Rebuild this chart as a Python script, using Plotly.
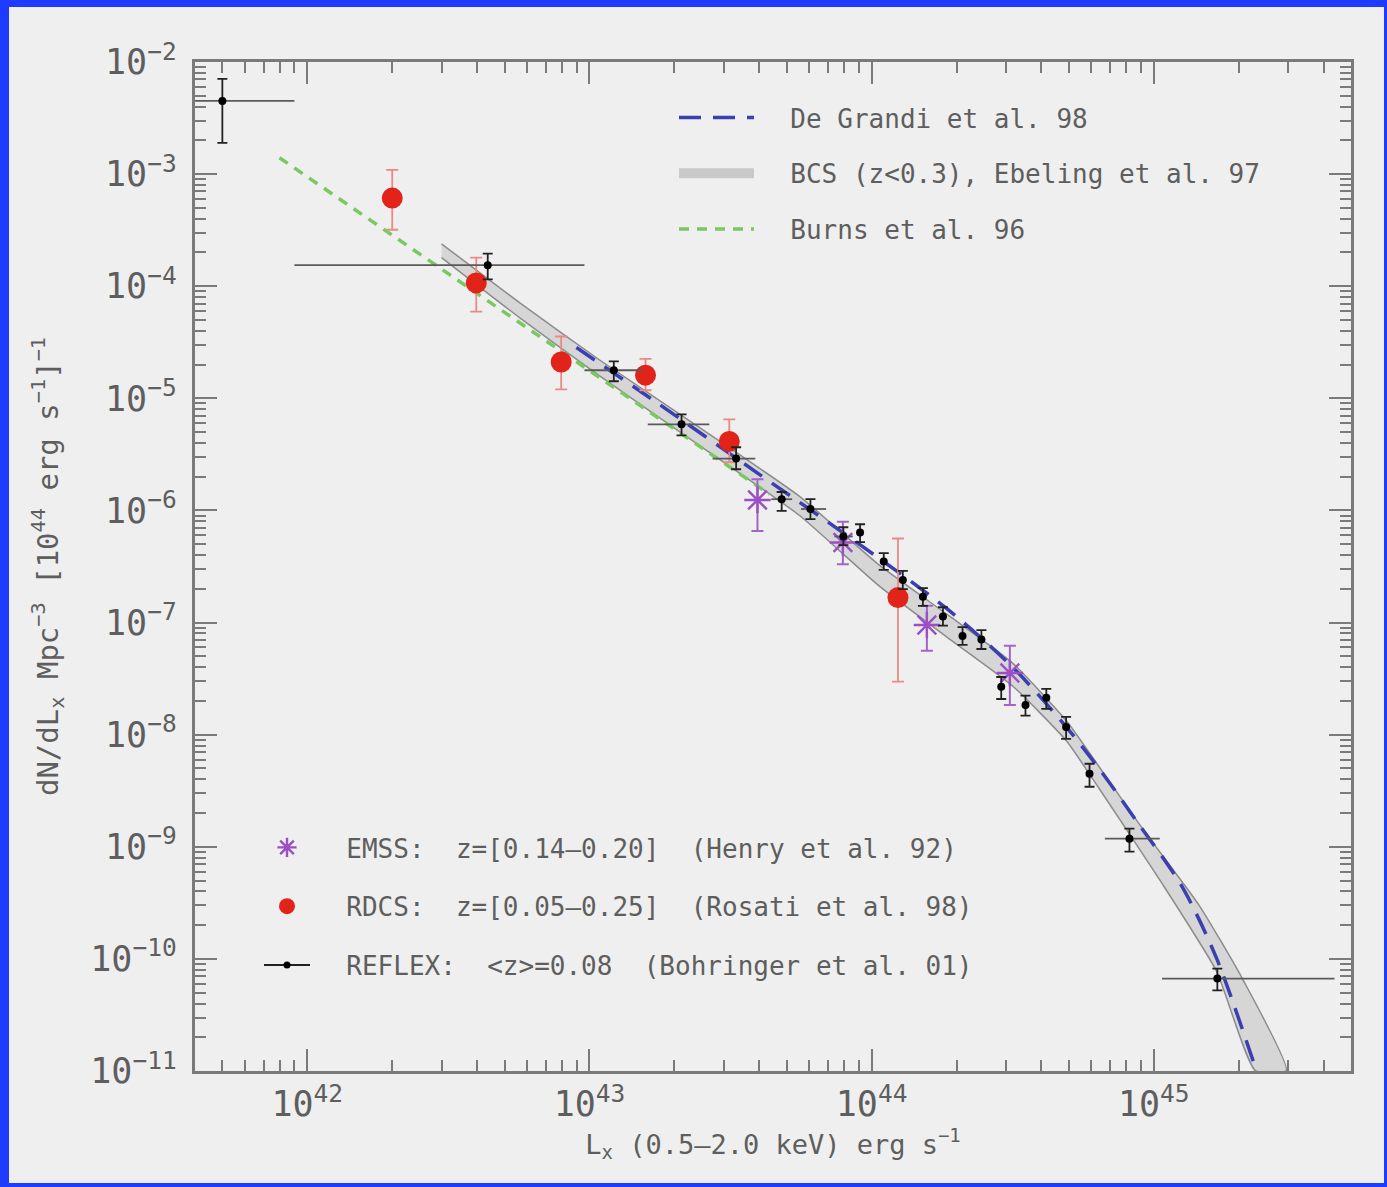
import plotly.graph_objects as go

# ---------------- data ----------------
# REFLEX (Bohringer et al. 01)
reflex_L = [5.0e41, 4.36e42, 1.22e43, 2.12e43, 3.31e43, 4.80e43, 6.07e43, 7.94e43, 9.10e43,
            1.104e44, 1.29e44, 1.52e44, 1.79e44, 2.10e44, 2.45e44, 2.88e44, 3.51e44, 4.16e44,
            4.89e44, 5.92e44, 8.20e44, 1.68e45]
reflex_n = [4.50e-3, 1.54e-4, 1.78e-5, 5.86e-6, 2.90e-6, 1.26e-6, 1.03e-6, 5.86e-7, 6.35e-7,
            3.51e-7, 2.40e-7, 1.70e-7, 1.135e-7, 7.59e-8, 7.06e-8, 2.67e-8, 1.84e-8, 2.13e-8,
            1.17e-8, 4.48e-9, 1.18e-9, 6.68e-11]
reflex_n_hi = [7.06e-3, 1.95e-4, 2.14e-5, 7.19e-6, 3.66e-6, 1.46e-6, 1.26e-6, 7.08e-7, 7.53e-7,
               4.16e-7, 2.89e-7, 2.03e-7, 1.37e-7, 9.12e-8, 8.57e-8, 3.27e-8, 2.23e-8, 2.56e-8,
               1.44e-8, 5.50e-9, 1.45e-9, 8.20e-11]
reflex_n_lo = [1.90e-3, 1.15e-4, 1.42e-5, 4.68e-6, 2.33e-6, 9.9e-7, 8.35e-7, 4.90e-7, 5.21e-7,
               2.95e-7, 1.99e-7, 1.41e-7, 9.37e-8, 6.31e-8, 5.81e-8, 2.08e-8, 1.48e-8, 1.70e-8,
               9.16e-9, 3.43e-9, 9.04e-10, 5.24e-11]
reflex_L_lo = [4.0e41, 9.0e41, 9.6e42, 1.61e43, 2.73e43, 4.41e43, 5.62e43, 7.38e43, None,
               None, None, None, None, None, None, None, None, None,
               None, None, 6.71e44, 1.07e45]
reflex_L_hi = [9.0e41, 9.6e42, 1.54e43, 2.66e43, 3.87e43, 5.23e43, 6.90e43, 8.57e43, None,
               None, None, None, None, None, None, None, None, None,
               None, None, 1.05e45, 4.37e45]

# RDCS (Rosati et al. 98)
rdcs_L = [2.00e42, 3.97e42, 7.94e42, 1.58e43, 3.13e43, 1.24e44]
rdcs_n = [6.11e-4, 1.07e-4, 2.11e-5, 1.61e-5, 4.13e-6, 1.67e-7]
rdcs_n_hi = [1.09e-3, 1.80e-4, 3.56e-5, 2.25e-5, 6.48e-6, 5.62e-7]
rdcs_n_lo = [3.19e-4, 5.94e-5, 1.20e-5, 1.18e-5, 2.69e-6, 2.97e-8]

# EMSS (Henry et al. 92)
emss_L = [3.94e43, 7.91e43, 1.57e44, 3.09e44]
emss_n = [1.24e-6, 5.18e-7, 9.51e-8, 3.55e-8]
emss_n_hi = [1.90e-6, 7.91e-7, 1.41e-7, 6.21e-8]
emss_n_lo = [6.56e-7, 3.32e-7, 5.61e-8, 1.84e-8]

# Burns et al. 96
burns_L = [7.97e41, 4.35e43]
burns_n = [1.40e-3, 1.39e-6]

# De Grandi et al. 98
degrandi_L = [8.99e42, 1.77e43, 4.00e43, 9.04e43, 1.82e44, 3.13e44, 4.90e44, 6.41e44,
              8.67e44, 1.26e45, 1.67e45, 2.31e45]
degrandi_n = [2.84e-5, 8.83e-6, 2.10e-6, 5.00e-7, 1.37e-7, 4.10e-8, 1.17e-8, 4.95e-9,
              1.71e-9, 4.41e-10, 1.01e-10, 1.01e-11]

# BCS (z<0.3), Ebeling et al. 97 : band edges
bcs_L_up = [2.99e42, 5.65e42, 1.08e43, 2.45e43, 5.54e43, 1.065e44, 1.89e44, 3.16e44,
            4.90e44, 6.41e44, 9.12e44, 1.45e45, 2.06e45, 2.95e45]
bcs_n_up = [2.39e-4, 7.14e-5, 2.22e-5, 5.51e-6, 1.34e-6, 3.25e-7, 1.14e-7, 4.35e-8,
            1.33e-8, 5.15e-9, 1.45e-9, 2.99e-10, 6.68e-11, 1.01e-11]
bcs_L_lo = [2.99e42, 5.65e42, 1.08e43, 2.45e43, 5.54e43, 1.065e44, 1.89e44, 3.16e44,
            4.90e44, 6.41e44, 1.06e45, 1.67e45, 2.29e45]
bcs_n_lo = [1.80e-4, 5.25e-5, 1.60e-5, 3.81e-6, 9.06e-7, 2.11e-7, 7.13e-8, 2.72e-8,
            8.81e-9, 3.29e-9, 4.89e-10, 7.73e-11, 1.01e-11]

legend_top = ["De Grandi et al. 98", "BCS (z&lt;0.3), Ebeling et al. 97", "Burns et al. 96"]
legend_bottom = ["EMSS:  z=[0.14–0.20]  (Henry et al. 92)",
                 "RDCS:  z=[0.05–0.25]  (Rosati et al. 98)",
                 "REFLEX:  &lt;z&gt;=0.08  (Bohringer et al. 01)"]

# ---------------- style ----------------
FONT = "DejaVu Sans Mono"
TXT = "#5e5e5e"
AX = "#7a7a7a"
BG = "#efefef"
W, H = 1387, 1187
ML, MR, MT, MB = 195, 36, 62, 116
PW, PH = W - ML - MR, H - MT - MB
PAD = "  "  # visual gap between legend sample and text

fig = go.Figure()

# BCS band
fig.add_trace(go.Scatter(
    x=bcs_L_up + bcs_L_lo[::-1], y=bcs_n_up + bcs_n_lo[::-1],
    mode="lines", fill="toself", fillcolor="#d6d6d6",
    line=dict(color="#8c8c8c", width=1.5, shape="spline", smoothing=0.5),
    showlegend=False, hoverinfo="skip"))

# Burns
fig.add_trace(go.Scatter(
    x=burns_L, y=burns_n, mode="lines",
    line=dict(color="#79c860", width=3.5, dash="10px,8px"),
    name=PAD + legend_top[2], legend="legend", legendgroup="burns", legendrank=3))

# De Grandi
fig.add_trace(go.Scatter(
    x=degrandi_L, y=degrandi_n, mode="lines",
    line=dict(color="#3b3fb0", width=3.5, dash="22px,12px", shape="spline", smoothing=0.8),
    name=PAD + legend_top[0], legend="legend", legendgroup="degrandi", legendrank=1))

# BCS legend sample (band swatch)
fig.add_trace(go.Scatter(
    x=[None], y=[None], mode="lines",
    line=dict(color="#c9c9c9", width=12),
    name=PAD + legend_top[1], legend="legend", legendgroup="bcs", legendrank=2))

# RDCS
fig.add_trace(go.Scatter(
    x=rdcs_L, y=rdcs_n, mode="markers",
    marker=dict(symbol="circle", size=21, color="#e2231a", line=dict(width=0)),
    error_y=dict(type="data", symmetric=False,
                 array=[h - v for h, v in zip(rdcs_n_hi, rdcs_n)],
                 arrayminus=[v - l for v, l in zip(rdcs_n, rdcs_n_lo)],
                 color="#e98a86", thickness=1.8, width=6),
    name=PAD + legend_bottom[1], legend="legend2", legendgroup="rdcs", legendrank=2))

# EMSS
fig.add_trace(go.Scatter(
    x=emss_L, y=emss_n, mode="markers",
    marker=dict(symbol="asterisk-open", size=22, color="#9a4fc4",
                line=dict(color="#9a4fc4", width=2.4)),
    error_y=dict(type="data", symmetric=False,
                 array=[h - v for h, v in zip(emss_n_hi, emss_n)],
                 arrayminus=[v - l for v, l in zip(emss_n, emss_n_lo)],
                 color="#a264c8", thickness=2, width=6),
    name=PAD + legend_bottom[0], legend="legend2", legendgroup="emss", legendrank=1))

# REFLEX
fig.add_trace(go.Scatter(
    x=reflex_L, y=reflex_n, mode="markers",
    marker=dict(symbol="circle", size=8, color="black"),
    error_y=dict(type="data", symmetric=False,
                 array=[h - v for h, v in zip(reflex_n_hi, reflex_n)],
                 arrayminus=[v - l for v, l in zip(reflex_n, reflex_n_lo)],
                 color="#222222", thickness=1.8, width=5),
    error_x=dict(type="data", symmetric=False,
                 array=[(h - v) if h else 0 for h, v in zip(reflex_L_hi, reflex_L)],
                 arrayminus=[(v - l) if l else 0 for v, l in zip(reflex_L, reflex_L_lo)],
                 color="#5a5a5a", thickness=1.8, width=0),
    showlegend=False, legend="legend2"))

# REFLEX legend sample (line + dot)
fig.add_trace(go.Scatter(
    x=[None], y=[None], mode="lines+markers",
    marker=dict(symbol="circle", size=7, color="black"),
    line=dict(color="#222222", width=2),
    name=PAD + legend_bottom[2], legend="legend2", legendgroup="reflex", legendrank=3))

axis_common = dict(
    type="log", showgrid=False, zeroline=False, automargin=False,
    showline=True, linecolor=AX, linewidth=2.5, mirror="allticks",
    ticks="inside", ticklen=22, tickwidth=2, tickcolor=AX,
    dtick=1, exponentformat="power",
    tickfont=dict(family=FONT, size=28, color=TXT),
    minor=dict(ticks="inside", ticklen=11, tickwidth=1.5, tickcolor=AX, dtick="D1", showgrid=False),
)

fig.update_layout(
    width=W, height=H,
    margin=dict(l=ML, r=MR, t=MT, b=MB),
    paper_bgcolor="#1e3cff", plot_bgcolor=BG,
    font=dict(family=FONT, color=TXT),
    xaxis=dict(**axis_common, range=[41.602, 45.699], ticklabelstandoff=2,
               title=dict(text="L<sub>x</sub> (0.5–2.0 keV) erg s<sup>−1</sup>",
                          font=dict(family=FONT, size=27, color=TXT), standoff=8)),
    yaxis=dict(**axis_common, range=[-11, -2], ticklabelstandoff=10,
               title=dict(text="dN/dL<sub>x</sub> Mpc<sup>−3</sup> [10<sup>44</sup> erg s<sup>−1</sup>]<sup>−1</sup>",
                          font=dict(family=FONT, size=29, color=TXT), standoff=24)),
    legend=dict(x=(674 - ML) / PW, y=1 - (94 - MT) / PH, xanchor="left", yanchor="top",
                bgcolor="rgba(0,0,0,0)", font=dict(family=FONT, size=26, color=TXT),
                tracegroupgap=19, itemwidth=75, traceorder="grouped"),
    legend2=dict(x=(259 - ML) / PW, y=1 - (824 - MT) / PH, xanchor="left", yanchor="top",
                 bgcolor="rgba(0,0,0,0)", font=dict(family=FONT, size=26, color=TXT),
                 tracegroupgap=22, itemwidth=46, traceorder="grouped"),
    shapes=[dict(type="rect", xref="paper", yref="paper", layer="below",
                 x0=(-ML + 9) / PW, x1=1 + (MR - 3) / PW,
                 y0=-(MB - 4) / PH, y1=1 + (MT - 7) / PH,
                 fillcolor=BG, line=dict(width=0))],
    showlegend=True,
)

fig.write_html("out.html", config={"displayModeBar": False},
               post_script="document.body.style.margin='0px';document.body.style.overflow='hidden';")
